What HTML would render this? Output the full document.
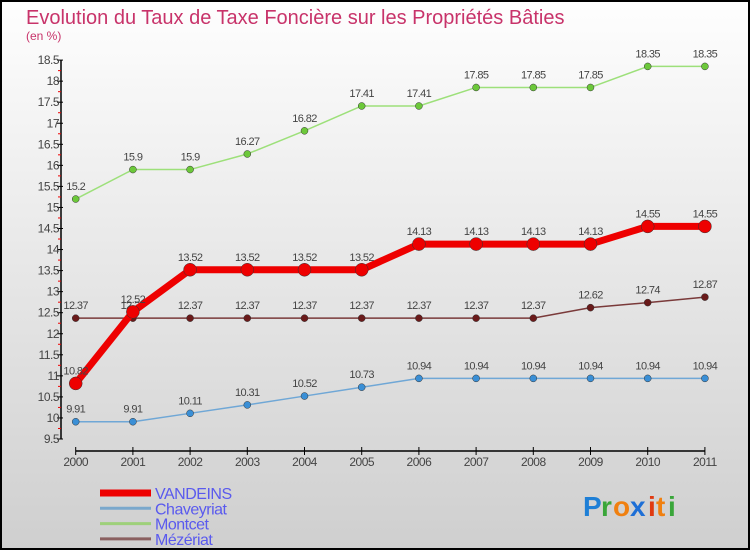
<!DOCTYPE html>
<html><head><meta charset="utf-8"><style>
body{margin:0}
#c{width:750px;height:550px;position:relative;box-sizing:border-box;border:2px solid #000;background:linear-gradient(#fefefe,#cfcfcf);overflow:hidden;font-family:"Liberation Sans",sans-serif}
</style></head><body>
<div id="c">
<svg id="s" width="750" height="550" style="position:absolute;left:-2px;top:-2px">
<text x="26" y="24" font-size="20" fill="#c8336a">Evolution du Taux de Taxe Foncière sur les Propriétés Bâties</text>
<text x="26" y="40" font-size="12" fill="#c8336a">(en %)</text>
<g id="g"></g>
<g font-size="28" font-weight="bold">
<text x="583" y="516" fill="#1e7fd6">P</text><text x="601" y="516" fill="#3aa63a">r</text><text x="613" y="516" fill="#f08010">o</text><text x="630" y="516" fill="#1e6fd6">x</text><text x="648" y="516" fill="#e03a10">i</text><text x="656" y="516" fill="#f08010">t</text><text x="668" y="516" fill="#3aa63a">i</text>
</g>
</svg>
</div>
<script>
const years=["2000","2001","2002","2003","2004","2005","2006","2007","2008","2009","2010","2011"];
const vandeins=[10.82,12.52,13.52,13.52,13.52,13.52,14.13,14.13,14.13,14.13,14.55,14.55];
const chaveyriat=[9.91,9.91,10.11,10.31,10.52,10.73,10.94,10.94,10.94,10.94,10.94,10.94];
const montcet=[15.2,15.9,15.9,16.27,16.82,17.41,17.41,17.85,17.85,17.85,18.35,18.35];
const mezeriat=[12.37,12.37,12.37,12.37,12.37,12.37,12.37,12.37,12.37,12.62,12.74,12.87];
const yTicks=[9.5,10,10.5,11,11.5,12,12.5,13,13.5,14,14.5,15,15.5,16,16.5,17,17.5,18,18.5];
const NS="http://www.w3.org/2000/svg";
const g=document.getElementById('g');
const X=i=>75.7+i*57.2;
const Y=v=>439-(v-9.5)*42.1;
function mk(t,a,p){const e=document.createElementNS(NS,t);for(const k in a)e.setAttribute(k,a[k]);(p||g).appendChild(e);return e;}
// y axis
let ax=mk('line',{x1:61,y1:60,x2:61,y2:439,stroke:'#000','stroke-width':1.5});


yTicks.forEach((v,i)=>{
 mk('line',{x1:57,y1:Y(v),x2:63,y2:Y(v),stroke:'#000'});
 if(i<yTicks.length-1)mk('line',{x1:58,y1:Y(v+0.25),x2:61,y2:Y(v+0.25),stroke:'#e00'});
 const t=mk('text',{x:59,y:Y(v)+4,'font-size':12,fill:'#444','text-anchor':'end','letter-spacing':'-0.5'});
 t.textContent=String(v);
 
 
});
let xa=mk('line',{x1:X(0),y1:451,x2:X(11),y2:451,stroke:'#000','stroke-width':1.5});


years.forEach((y,i)=>{
 mk('line',{x1:X(i),y1:447,x2:X(i),y2:455,stroke:'#000'});
 const t=mk('text',{x:X(i),y:466,'font-size':12,fill:'#444','text-anchor':'middle','letter-spacing':'-0.5'});
 t.textContent=y;
 
 
});
function series(name,vals,col,w,r,dot){
 const gg=mk('g',{});
 
 
 mk('polyline',{points:vals.map((v,i)=>X(i)+','+Y(v)).join(' '),fill:'none',stroke:col,'stroke-width':w,'stroke-linejoin':'round'},gg);
 vals.forEach((v,i)=>{
  const c=mk('circle',{cx:X(i),cy:Y(v),r:r,fill:dot,stroke:'#333','stroke-width':0.5},gg);
  
  
  const t=mk('text',{x:X(i),y:Y(v)-9,'font-size':11,fill:'#444','text-anchor':'middle','letter-spacing':'-0.6'},gg);
  t.textContent=String(v);
  
  
 });
}
series('chaveyriat',chaveyriat,'#6fa7d6',1.5,3.5,'#3a8fd6');
series('montcet',montcet,'#9de07a',1.5,3.5,'#6cc83a');
series('mezeriat',mezeriat,'#7a3a3a',1.5,3.5,'#6a1a1a');
series('vandeins',vandeins,'#ee0000',7,6.5,'#ee0000');
// legend
const legNames=["VANDEINS","Chaveyriat","Montcet","Mézériat"];
const legCols=['#ee0000','#7aa8cc','#9ed07a','#8a6060'];
const legW=[7,3,3,3];
legNames.forEach((n,i)=>{
 const y=493+i*15.3;
 const lg=mk('g',{});
 
 
 mk('line',{x1:100,y1:y,x2:151,y2:y,stroke:legCols[i],'stroke-width':legW[i]},lg);
 const t=mk('text',{x:155,y:y+6,'font-size':16,fill:'#5a5aee','letter-spacing':'-0.5'},lg);
 t.textContent=n;
});
</script>
</body></html>
